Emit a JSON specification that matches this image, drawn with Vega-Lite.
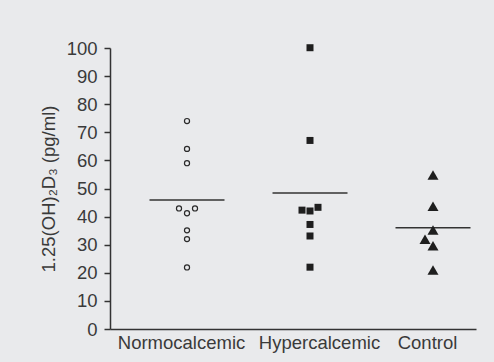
{
  "$schema": "https://vega.github.io/schema/vega-lite/v6.json",
  "width": 366,
  "height": 281,
  "autosize": {"type": "none"},
  "padding": {"left": 110, "top": 48, "right": 18, "bottom": 33},
  "background": "#e9eaec",
  "config": {
    "view": {"stroke": null},
    "font": "Liberation Sans",
    "axis": {"grid": false, "domainColor": "#333333", "domainWidth": 1.5, "tickColor": "#333333", "tickWidth": 1.5, "labelColor": "#3a3a3a", "titleColor": "#3a3a3a", "labelFont": "Liberation Sans", "titleFont": "Liberation Sans", "labelFontSize": 18.5, "titleFontSize": 18.5, "titleFontWeight": "normal"}
  },
  "data": {
    "values": [
      {"group": "Normocalcemic", "value": 74.0, "jitter": "C"},
      {"group": "Normocalcemic", "value": 64.1, "jitter": "C"},
      {"group": "Normocalcemic", "value": 59.0, "jitter": "C"},
      {"group": "Normocalcemic", "value": 42.9, "jitter": "L"},
      {"group": "Normocalcemic", "value": 41.2, "jitter": "C"},
      {"group": "Normocalcemic", "value": 42.9, "jitter": "R"},
      {"group": "Normocalcemic", "value": 35.1, "jitter": "C"},
      {"group": "Normocalcemic", "value": 32.0, "jitter": "C"},
      {"group": "Normocalcemic", "value": 21.9, "jitter": "C"},
      {"group": "Hypercalcemic", "value": 100.1, "jitter": "C"},
      {"group": "Hypercalcemic", "value": 67.1, "jitter": "C"},
      {"group": "Hypercalcemic", "value": 42.3, "jitter": "L"},
      {"group": "Hypercalcemic", "value": 42.0, "jitter": "C"},
      {"group": "Hypercalcemic", "value": 43.3, "jitter": "R"},
      {"group": "Hypercalcemic", "value": 37.2, "jitter": "C"},
      {"group": "Hypercalcemic", "value": 33.1, "jitter": "C"},
      {"group": "Hypercalcemic", "value": 22.0, "jitter": "C"},
      {"group": "Control", "value": 54.8, "jitter": "C"},
      {"group": "Control", "value": 43.7, "jitter": "C"},
      {"group": "Control", "value": 35.2, "jitter": "C"},
      {"group": "Control", "value": 31.9, "jitter": "L"},
      {"group": "Control", "value": 29.6, "jitter": "C"},
      {"group": "Control", "value": 21.0, "jitter": "C"}
    ]
  },
  "encoding": {
    "x": {
      "field": "group", "type": "nominal",
      "scale": {"type": "point", "domain": ["Normocalcemic", "Hypercalcemic", "Control"], "padding": 0.4878, "align": 0.6417},
      "axis": {"title": null, "ticks": false, "labelPadding": 4, "labelAngle": 0,
        "labelOffset": {"condition": [{"test": "datum.value === 'Normocalcemic'", "value": -6}, {"test": "datum.value === 'Hypercalcemic'", "value": 9}], "value": -6}}
    },
    "y": {
      "field": "value", "type": "quantitative",
      "scale": {"domain": [0, 100], "nice": false, "zero": true},
      "axis": {"title": "1.25(OH)₂D₃ (pg/ml)", "values": [0, 10, 20, 30, 40, 50, 60, 70, 80, 90, 100], "tickSize": 6, "labelPadding": 7, "titlePadding": 8}
    }
  },
  "layer": [
    {
      "mark": {"type": "tick", "size": 75, "thickness": 1.5, "color": "#333333"},
      "encoding": {"y": {"aggregate": "mean", "field": "value", "type": "quantitative"}}
    },
    {
      "mark": {"type": "point", "opacity": 1},
      "encoding": {
        "xOffset": {"field": "jitter", "type": "nominal", "scale": {"type": "point", "domain": ["L", "C", "R"], "range": [-8, 8], "padding": 0}},
        "shape": {"field": "group", "type": "nominal", "scale": {"domain": ["Normocalcemic", "Hypercalcemic", "Control"], "range": ["circle", "square", "triangle-up"]}, "legend": null},
        "size": {"condition": [{"test": "datum.group === 'Control'", "value": 120}, {"test": "datum.group === 'Hypercalcemic'", "value": 49}], "value": 26},
        "fill": {"condition": {"test": "datum.group === 'Normocalcemic'", "value": "rgba(0,0,0,0)"}, "value": "#1e1e1e"},
        "stroke": {"condition": {"test": "datum.group === 'Normocalcemic'", "value": "#2a2a2a"}, "value": "#1e1e1e"},
        "strokeWidth": {"condition": {"test": "datum.group === 'Normocalcemic'", "value": 1.2}, "value": 0}
      }
    }
  ]
}
